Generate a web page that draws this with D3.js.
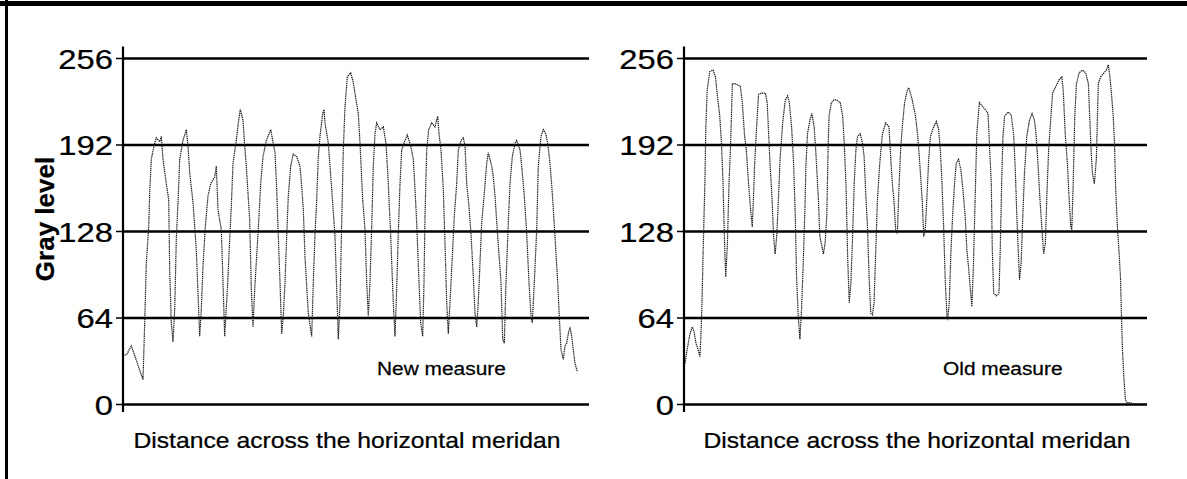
<!DOCTYPE html>
<html>
<head>
<meta charset="utf-8">
<script src="https://cdn.jsdelivr.net/npm/d3@7"></script>
<style>
  body { margin: 0; background: #fff; }
  text { font-family: "Liberation Sans", Arial, sans-serif; fill: #000; stroke: #000; stroke-width: 0.25px; }
</style>
</head>
<body>
<div id="plot_chart"></div>
<script>
var yTicks = [0, 64, 128, 192, 256];
var xTitle = 'Distance across the horizontal meridan';
var yTitle = 'Gray level';

// new measure profile (distance, gray level)
var newDist = [1.7,4,8.3,13,20,21.7,23.3,25.7,26.7,28.3,31,33.3,36.7,38.3,40,43.3,45.7,46.7,48.3,50,
  51.7,53.3,55,56.7,60,63.3,65,66.7,70,73.3,75,76.7,78.3,80,82.3,85,87.7,91.7,93.3,95,
  98.3,100,101.7,105,106.7,108.3,110,113.3,115.7,117.3,120,121.7,123.3,126.7,128.3,130,131.7,135,137.7,140,
  143.3,147.7,152,153.7,155.3,157,158.7,160.3,162,163.7,165.3,167.7,170.3,173.7,177,178.7,180.3,182,185.3,188.7,
  190.3,192,193.7,195.3,197,199.7,201,202,205.3,207,208.7,212,213.7,215.3,217,218.7,220.3,222,224.3,227.7,
  230.3,233,235.3,237,239.7,242,243.7,245.3,247,248.7,250.3,252,253.7,257,260.3,263,265.3,267.7,270.3,272,
  273.7,275.3,277,278.7,282,284.3,287.7,290.3,292,293.7,296,297.7,299.7,301,302,303.7,305.7,308.7,312,314.7,
  316,318,320.3,322,323.7,325.3,327,329.3,331.3,333.7,335.3,338,340.3,342,343.7,346,348,350.3,352,353.7,
  355.3,358.7,361.3,363.7,365.3,368.7,370.3,372,374.7,378,379.7,381.3,383,385.3,387,389.3,392,393.7,397,398.7,
  401.3,403.7,406,408,409.3,411.3,413.7,415.3,418,420.3,422.7,424.7,427,429.3,432,434.7,436.3,438,440.3,442,
  443.7,445.3,447,448.7,450.3,452,454.3];
var newGray = [36,37,43,33,18,60,104,131,156,181,191,197,194,198,181,163,151,99,60,46,
  70,122,149,181,195,203,191,171,149,114,82,50,70,102,131,154,163,168,176,144,
  129,90,50,94,122,146,178,195,210,218,210,191,176,136,85,57,85,126,163,183,
  195,203,186,159,124,90,52,65,90,124,154,176,185,183,176,161,144,109,67,50,
  90,126,151,183,198,215,218,208,193,176,159,124,85,48,75,134,188,220,242,245,
  238,225,215,193,151,129,90,65,90,131,176,200,208,203,205,193,163,124,75,50,
  85,126,163,188,195,199,191,181,159,134,90,60,50,90,139,188,203,208,205,213,
  200,188,159,119,75,52,75,109,139,163,188,195,197,191,163,146,126,94,67,57,
  75,134,156,178,186,176,168,154,124,90,48,45,90,134,163,183,193,195,188,176,
  154,126,90,65,60,90,129,176,198,203,200,193,178,156,124,90,65,40,33,43,
  45,52,57,50,40,30,24];

// old measure profile (distance, gray level)
var oldDist = [1,2.7,4.3,6,8.3,10,12,14.3,16,17,18,19.3,21,22,23.3,26,29.3,31.7,33.3,36,
  37.7,39.3,41,42,43.7,45.3,46.7,48.7,51,54.3,56.7,58.7,61,62.7,65,67,68.7,70,71,72.7,
  75,77.7,82,83.7,85.3,86.7,88.7,90,91.7,93.3,95,96.7,99.3,102,104.3,106,108.3,110.3,112,113.3,
  115,116.7,118.3,120,121.7,122.7,124.3,126.7,128.7,131,132.7,135.3,136.7,138.7,140.3,142,143.7,145,146,148.3,
  151,153,157.3,159.7,161.3,163,164.7,166.3,168,169.7,171.3,173,174.7,177.3,179.7,181.3,183,184.7,186.3,188,
  189.7,191.3,193,194.7,197,199.7,203,206.3,208,209.7,211.3,213,214.7,216.3,218,219.7,222,224.7,226.3,229.7,
  233,235.3,237.3,239.7,241.3,243,244.7,246.3,248,251.3,254,256.3,258,259.7,261.3,263,264.7,265.3,267,268.7,
  270.7,272.3,274,276.3,278.7,280.7,283,284.7,286.3,289.7,291.3,293,294.7,297.3,300.7,303,306,307.7,309.3,310.3,
  311.7,314.3,317,318.3,319.7,321,322.7,326,329.3,331.7,333.3,335,336.7,337.7,339.3,341,342.7,345,347.7,350.3,
  352.7,354.3,356,358.3,360.3,362,363.7,365.3,367,369.3,371,374.3,377.7,380.3,381.7,383.7,386,387.7,389.3,390.3,
  391.7,393.3,395,397.7,401,404.3,407,408.3,409.7,411,413,415,417,419.3,422.7,425,427,428.7,430.3,432,
  433.3,434.3,436,437.7,439.3,440.3,441.3,442.7,444.3,446,449.3,452.7];
var oldGray = [30,38,45,52,57,54,45,40,35,50,72,114,163,205,232,246,247,242,230,213,
  193,163,114,94,119,163,188,237,237,236,235,223,198,188,163,144,131,154,176,200,
  229,230,230,223,198,176,151,126,111,124,151,181,208,225,228,223,205,178,139,94,
  65,48,70,104,144,176,200,210,215,205,186,151,124,117,111,119,139,188,213,223,
  225,225,223,213,193,163,109,75,90,124,163,188,198,200,193,183,154,131,94,67,
  66,75,114,151,178,200,208,205,183,163,151,129,126,159,188,205,223,232,234,225,
  213,198,178,151,124,131,156,181,198,205,209,203,188,163,131,90,65,62,75,114,
  144,163,178,181,173,159,139,114,102,72,102,151,200,223,220,218,215,188,163,114,
  82,80,82,114,163,198,213,216,214,200,176,139,109,92,104,139,171,198,210,215,
  210,200,181,151,129,111,119,156,188,213,230,235,240,242,232,200,176,151,131,129,
  163,213,237,245,247,245,237,213,188,171,163,181,237,242,245,247,251,242,229,213,
  193,163,134,114,94,65,40,20,3,1,1,0];

var W = 1187, H = 479;
var svg = d3.select('#plot_chart').append('svg').attr('width', W).attr('height', H);

// frame
svg.append('line').attr('x1', 0).attr('x2', W).attr('y1', 3.5).attr('y2', 3.5)
  .attr('stroke', '#000').attr('stroke-width', 5);
svg.append('line').attr('x1', 6.5).attr('x2', 6.5).attr('y1', 0).attr('y2', H)
  .attr('stroke', '#000').attr('stroke-width', 3);

var y = d3.scaleLinear().domain([0, 256]).range([404, 58]);

var panels = [
  { left: 123, right: 589, dist: newDist, gray: newGray, label: 'New measure', lx: 377, cx: 347, title: true },
  { left: 684, right: 1147, dist: oldDist, gray: oldGray, label: 'Old measure', lx: 943, cx: 917, title: false }
];

panels.forEach(function(p) {
  var x = d3.scaleLinear().domain([0, 466]).range([p.left, p.right]);
  var g = svg.append('g');

  // gridlines
  g.append('g').attr('transform', 'translate(' + p.left + ',0)')
    .call(d3.axisLeft(y).tickValues(yTicks).tickSize(-(p.right - p.left)).tickFormat(''))
    .call(function(s) {
      s.select('.domain').remove();
      s.selectAll('line').attr('stroke', '#000').attr('stroke-width', 2.6);
    });

  // ticks and labels
  g.append('g').attr('transform', 'translate(' + p.left + ',0)')
    .call(d3.axisLeft(y).tickValues(yTicks).tickSize(7).tickSizeOuter(0))
    .call(function(s) {
      s.select('.domain').remove();
      s.selectAll('line').attr('stroke', '#000').attr('stroke-width', 1.5);
      s.selectAll('text')
        .attr('x', null).attr('dy', '0.36em')
        .attr('transform', 'translate(-10,0) scale(1.15,1)')
        .style('font-size', '28.5px').style('font-family', '"Liberation Sans", Arial, sans-serif')
        .attr('fill', '#000');
    });

  g.append('line')
    .attr('x1', p.left).attr('x2', p.left)
    .attr('y1', y(-6)).attr('y2', y(264.5))
    .attr('stroke', '#000').attr('stroke-width', 2.2);

  var line = d3.line()
    .x(function(d, i) { return x(p.dist[i]); })
    .y(function(d) { return y(d); });

  g.append('path')
    .datum(p.gray)
    .attr('d', line)
    .attr('fill', 'none')
    .attr('stroke', '#1e1e1e')
    .attr('stroke-width', 1.2)
    .attr('stroke-dasharray', '1.4,0.7');

  g.append('text')
    .attr('transform', 'translate(' + p.lx + ',375) scale(1.13,1)')
    .style('font-size', '18.5px')
    .text(p.label);

  g.append('text')
    .attr('transform', 'translate(' + p.cx + ',448) scale(1.15,1)')
    .attr('text-anchor', 'middle')
    .style('font-size', '21.5px')
    .text(xTitle);

  if (p.title) {
    g.append('text')
      .attr('transform', 'translate(54,219) rotate(-90)')
      .attr('text-anchor', 'middle')
      .style('font-size', '26px').style('font-weight', 'bold')
      .text(yTitle);
  }
});
</script>
</body>
</html>
